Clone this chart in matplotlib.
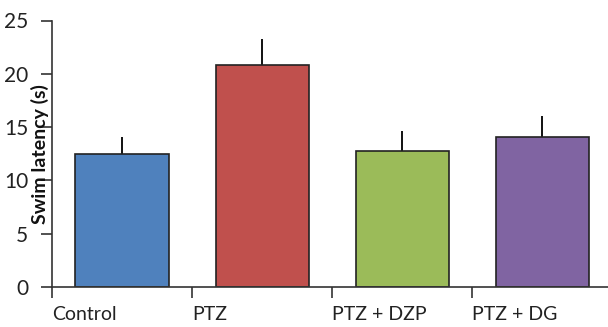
import matplotlib
matplotlib.use("Agg")
import matplotlib.pyplot as plt
from matplotlib.transforms import blended_transform_factory

groups = ["Control", "PTZ", "PTZ + DZP", "PTZ + DG"]
latency = [12.5, 20.8, 12.75, 14.05]
sem = [1.6, 2.45, 1.9, 2.0]
colors = ["#4F81BD", "#C0504D", "#9BBB59", "#8064A2"]
yticks = [0, 5, 10, 15, 20, 25]

plt.rcParams["font.family"] = ["Lato", "DejaVu Sans"]

W, H = 608, 327
fig = plt.figure(figsize=(W / 100, H / 100), dpi=100)
ax = fig.add_axes([52 / W, 40 / H, (W - 52) / W, 266.5 / H])

x = range(len(groups))
ax.bar(x, latency, width=0.665, color=colors, edgecolor="#222222",
       linewidth=1.2, zorder=2)
ax.errorbar(x, latency, yerr=[[0] * len(sem), sem], fmt="none",
            ecolor="#111111", elinewidth=1.4, capsize=0, zorder=1)

ax.set_xlim(-0.5, 3.47)
ax.set_ylim(0, 25)
ax.set_yticks(yticks)
ax.set_yticklabels([str(t) for t in yticks], fontsize=15, color="#222222")
ax.set_xticks([-0.5, 0.5, 1.5, 2.5])
ax.set_xticklabels([])

for side in ("top", "right"):
    ax.spines[side].set_visible(False)
for side in ("left", "bottom"):
    ax.spines[side].set_color("#333333")
    ax.spines[side].set_linewidth(1.2)
ax.tick_params(axis="both", direction="out", length=8, width=1.2,
               color="#333333")
ax.tick_params(axis="y", pad=9)

trans = blended_transform_factory(ax.transData, fig.transFigure)
for i, name in enumerate(groups):
    ax.text(i - 0.5, 12 / H, name, transform=trans, ha="left",
            va="center", fontsize=14, color="#222222")

fig.text(40 / W, 1 - 154 / H, "Swim latency (s)", rotation=90,
         ha="center", va="center", fontsize=14, fontweight="bold",
         color="#111111")

fig.savefig("out.png", dpi=100)
